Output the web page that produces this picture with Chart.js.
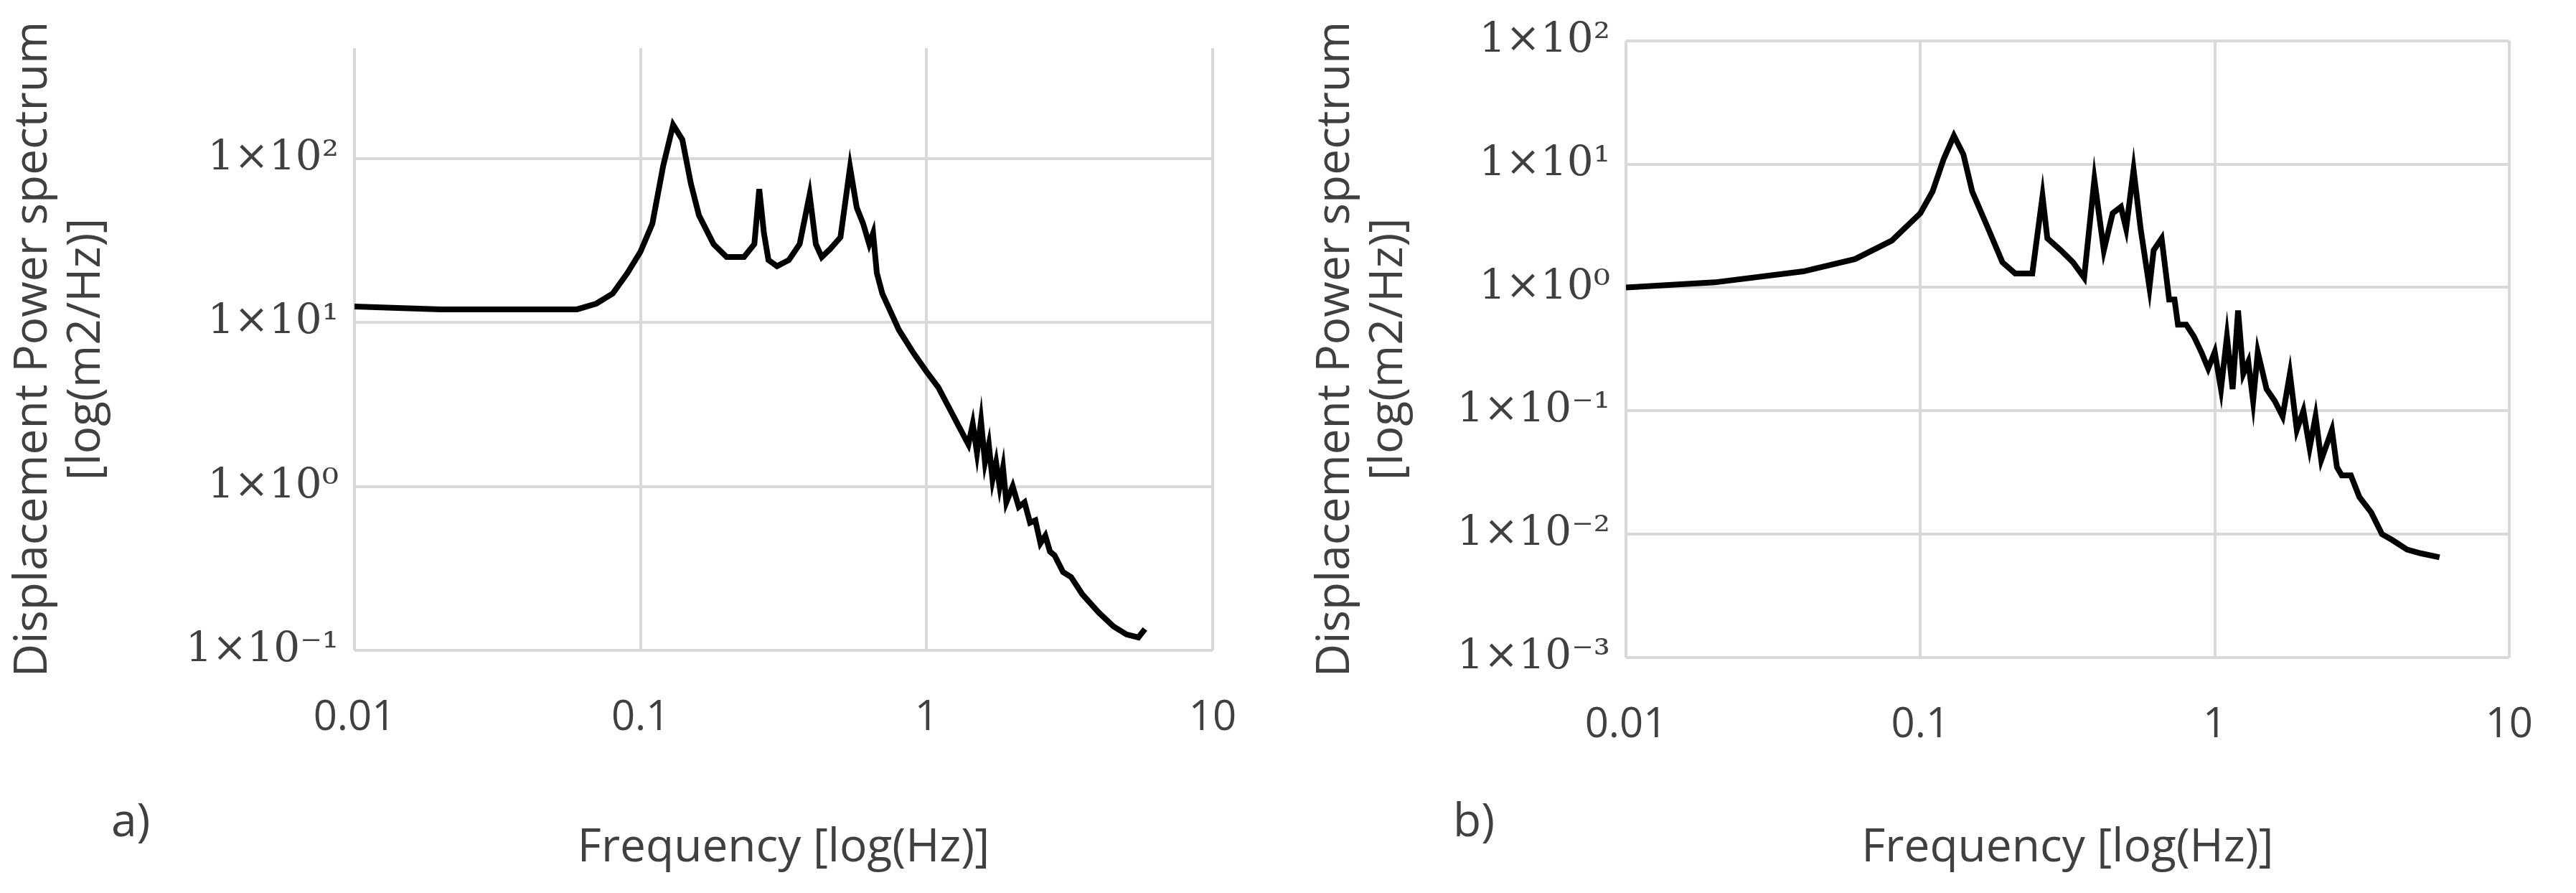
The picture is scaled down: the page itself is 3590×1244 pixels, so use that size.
<!DOCTYPE html>
<html><head><meta charset="utf-8">
<script src="https://cdn.jsdelivr.net/npm/chart.js@4/dist/chart.umd.min.js"></script>
<style>body{margin:0;background:#fff;width:3590px;height:1244px;position:relative;overflow:hidden}
.w{position:absolute;top:0;height:1244px}</style></head><body>
<div class="w" style="left:0;width:1795px"><canvas id="a"></canvas></div>
<div class="w" style="left:1795px;width:1795px"><canvas id="b"></canvas></div>
<script>
const freqA=[0.01,0.02,0.06,0.07,0.08,0.09,0.1,0.11,0.12,0.13,0.14,0.15,0.16,0.18,0.2,0.23,0.25,0.26,0.27,0.28,0.3,0.33,0.36,0.39,0.41,0.43,0.46,0.5,0.54,0.57,0.6,0.63,0.65,0.67,0.7,0.8,0.9,1.0,1.1,1.2,1.3,1.4,1.45,1.5,1.55,1.6,1.65,1.7,1.75,1.8,1.85,1.9,2.0,2.1,2.2,2.3,2.4,2.5,2.6,2.7,2.8,3.0,3.2,3.5,4,4.5,5,5.5,5.8];
const valA=[12.5,12,12,13,15,20,27,40,90,160,130,70,45,30,25,25,30,65,35,24,22,24,30,60,30,25,28,33,88,50,40,30,35,20,15,9,6.5,5,4,3,2.3,1.8,2.4,1.6,2.5,1.4,1.8,1.1,1.4,1.0,1.3,0.8,1.0,0.75,0.8,0.6,0.62,0.45,0.5,0.4,0.38,0.3,0.28,0.22,0.17,0.14,0.125,0.12,0.135];
const freqB=[0.01,0.02,0.04,0.06,0.08,0.1,0.11,0.12,0.13,0.14,0.15,0.17,0.19,0.21,0.24,0.26,0.27,0.3,0.33,0.36,0.39,0.42,0.45,0.48,0.5,0.53,0.56,0.6,0.62,0.66,0.7,0.73,0.75,0.8,0.85,0.9,0.95,1.0,1.05,1.1,1.15,1.2,1.25,1.3,1.35,1.4,1.5,1.6,1.7,1.8,1.9,2.0,2.1,2.2,2.3,2.5,2.6,2.7,2.9,3.1,3.4,3.7,4,4.5,5,5.8];
const valB=[1.0,1.1,1.35,1.7,2.4,4,6,11,17,12,6,3,1.6,1.3,1.3,5.5,2.5,2,1.6,1.2,7.5,2,4,4.5,3,9,3,1.0,2,2.5,0.8,0.8,0.5,0.5,0.4,0.3,0.22,0.3,0.15,0.4,0.15,0.65,0.2,0.25,0.12,0.3,0.15,0.12,0.09,0.2,0.07,0.1,0.05,0.09,0.04,0.07,0.035,0.03,0.03,0.02,0.015,0.01,0.009,0.0075,0.007,0.0065];
const xTicks=[0.01,0.1,1,10];
const yTicksA=[0.1,1,10,100];
const yTicksB=[0.001,0.01,0.1,1,10,100];
const sup={'-':'⁻','0':'⁰','1':'¹','2':'²','3':'³'};
const fmt=v=>{const e=Math.round(Math.log10(v));return '1×10'+String(e).split('').map(c=>sup[c]).join('');};
const TXT='#404040';
function make(id,fx,vy,yt,ymin,ymax,letter,pad){
  const grid={color:'#d9d9d9',lineWidth:4,drawTicks:false};
  new Chart(document.getElementById(id),{type:'scatter',
    data:{datasets:[{data:fx.map((f,i)=>({x:f,y:vy[i]})),showLine:true,borderColor:'#000',borderWidth:8,pointRadius:0,tension:0}]},
    options:{responsive:true,maintainAspectRatio:false,animation:false,
      layout:{padding:pad},
      plugins:{legend:{display:false},tooltip:{enabled:false}},
      scales:{
        x:{type:'logarithmic',min:0.01,max:10,grid:grid,border:{display:false},
          afterBuildTicks:s=>{s.ticks=xTicks.map(v=>({value:v}));},
          afterFit:s=>{s.height=pad.xh;},
          ticks:{color:TXT,font:{family:'Open Sans',size:58},padding:60,maxRotation:0,callback:v=>String(v)},
          title:{display:true,text:'Frequency [log(Hz)]',color:TXT,font:{family:'Open Sans',size:64},padding:{top:30}}},
        y:{type:'logarithmic',min:ymin,max:ymax,grid:grid,border:{display:false},
          afterBuildTicks:s=>{s.ticks=yt.map(v=>({value:v}));},
          afterFit:s=>{s.width=pad.yw;},
          ticks:{color:TXT,font:{family:'DejaVu Serif',size:58},padding:22,callback:v=>fmt(v)},
          title:{display:true,text:['Displacement Power spectrum','[log(m2/Hz)]'],color:TXT,font:{family:'Open Sans',size:64,lineHeight:1.15},padding:0}}
      }},
    plugins:[{id:'lbl',afterDraw(c){const x=c.ctx;x.save();x.fillStyle=TXT;x.font='64px Open Sans';x.fillText(letter,pad.lx,1165);x.restore();}}]
  });
}
make('a',freqA,valA,yTicksA,0.1,470,'a)',{top:67,bottom:20,left:10,right:105,yw:484,xh:318,lx:155});
make('b',freqB,valB,yTicksB,0.001,100,'b)',{top:56,bottom:20,left:30,right:55,yw:441,xh:308,lx:230});
</script></body></html>
